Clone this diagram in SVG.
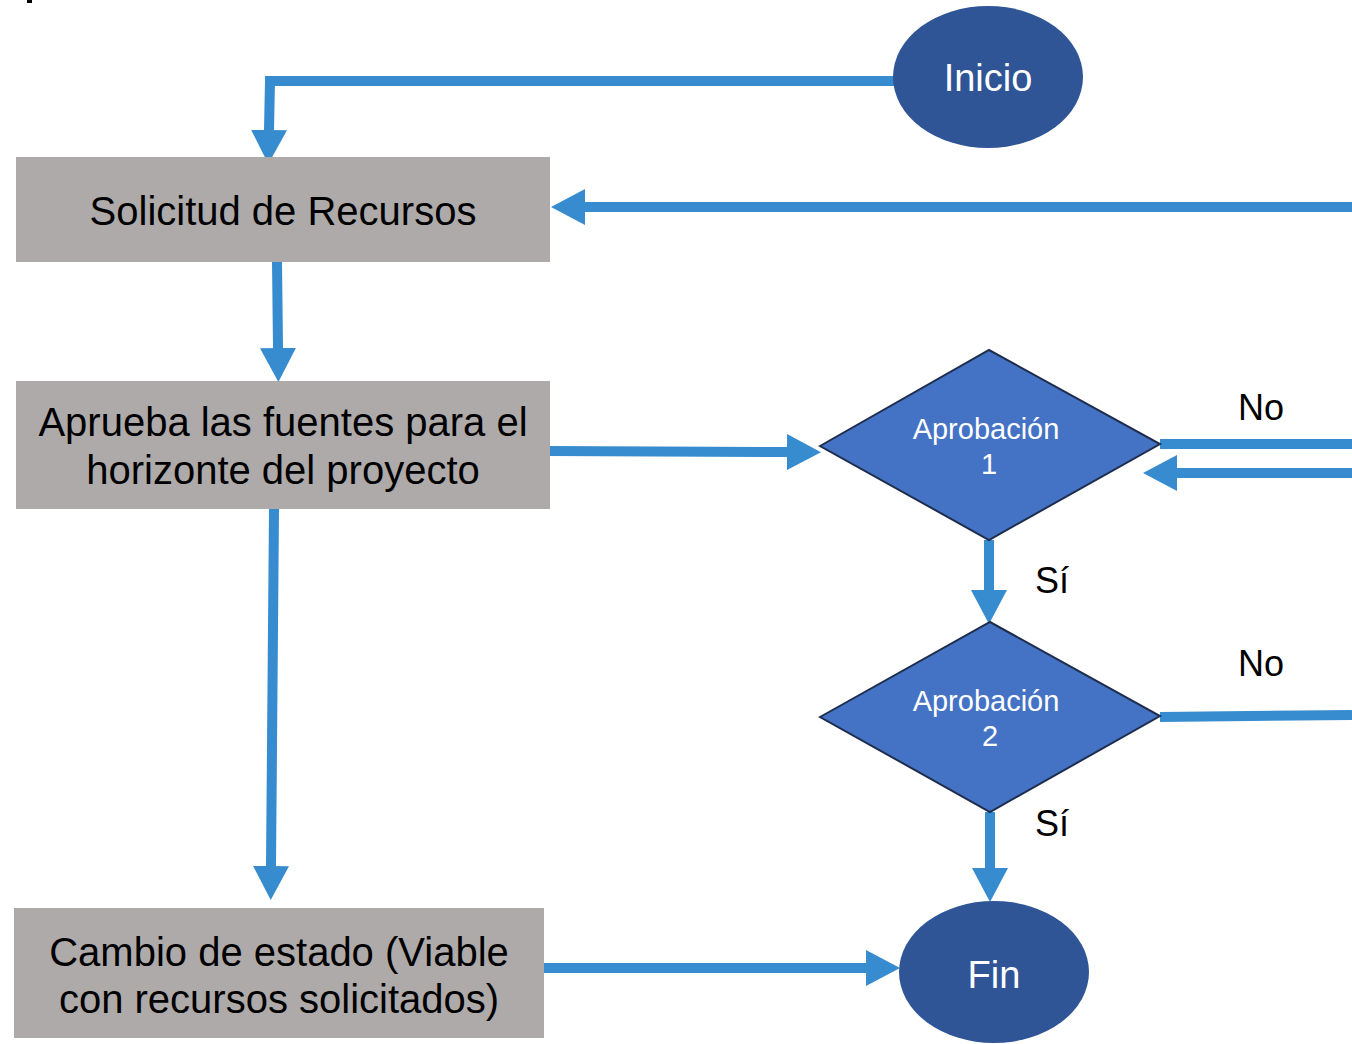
<svg xmlns="http://www.w3.org/2000/svg" width="1352" height="1044" viewBox="0 0 1352 1044">
<style>
  .box { fill: #AEAAAA; }
  .term { fill: #2F5597; }
  .dec { fill: #4472C4; stroke: #1F2D4D; stroke-width: 2; }
  .conn { fill: none; stroke: #368CCE; stroke-width: 10; }
  .t { font-family: "Liberation Sans", Arial, sans-serif; text-anchor: middle; }
  .tb { fill: #000; font-size: 40px; }
  .tw { fill: #fff; font-size: 38px; }
  .td { fill: #fff; font-size: 29px; }
  .tl { fill: #000; font-size: 36px; }
</style>
<defs>
  <marker id="ah" markerUnits="userSpaceOnUse" viewBox="0 0 34 36" refX="0" refY="18" markerWidth="34" markerHeight="36" orient="auto">
    <path d="M0,0 L34,18 L0,36 Z" fill="#368CCE"/>
  </marker>
</defs>
<rect x="27" y="0" width="5" height="3" fill="#000"/>
<g id="connectors">
  <path class="conn" d="M895,81 L270,81 L269,130" marker-end="url(#ah)"/>
  <path class="conn" d="M1352,207 L585,207" marker-end="url(#ah)"/>
  <path class="conn" d="M277,262 L278,348" marker-end="url(#ah)"/>
  <path class="conn" d="M548,451 L787,452" marker-end="url(#ah)"/>
  <path class="conn" d="M1160,444 L1352,444"/>
  <path class="conn" d="M1352,473 L1177,473" marker-end="url(#ah)"/>
  <path class="conn" d="M989,540 L989,590" marker-end="url(#ah)"/>
  <path class="conn" d="M1160,717 L1352,715"/>
  <path class="conn" d="M990,812 L990,868" marker-end="url(#ah)"/>
  <path class="conn" d="M274,509 L271,866" marker-end="url(#ah)"/>
  <path class="conn" d="M541,968 L866,968" marker-end="url(#ah)"/>
</g>
<g id="inicio">
  <ellipse class="term" cx="988" cy="77" rx="95" ry="71"/>
  <text class="t tw" x="988" y="91">Inicio</text>
</g>
<g id="solicitud">
  <rect class="box" x="16" y="157" width="534" height="105"/>
  <text class="t tb" x="283" y="225">Solicitud de Recursos</text>
</g>
<g id="aprueba">
  <rect class="box" x="16" y="381" width="534" height="128"/>
  <text class="t tb" x="283" y="436">Aprueba las fuentes para el</text>
  <text class="t tb" x="283" y="484">horizonte del proyecto</text>
</g>
<g id="aprobacion1">
  <polygon class="dec" points="820,446 989,350 1160,444 989,540"/>
  <text class="t td" x="986" y="439">Aprobación</text>
  <text class="t td" x="989" y="474">1</text>
</g>
<g id="aprobacion2">
  <polygon class="dec" points="820,717 990,622 1160,716 990,812"/>
  <text class="t td" x="986" y="711">Aprobación</text>
  <text class="t td" x="990" y="746">2</text>
</g>
<g id="cambio">
  <rect class="box" x="14" y="908" width="530" height="130"/>
  <text class="t tb" x="279" y="966">Cambio de estado (Viable</text>
  <text class="t tb" x="279" y="1013">con recursos solicitados)</text>
</g>
<g id="fin">
  <ellipse class="term" cx="994" cy="972" rx="95" ry="71"/>
  <text class="t tw" x="994" y="988">Fin</text>
</g>
<g id="labels">
  <text class="t tl" x="1261" y="420">No</text>
  <text class="t tl" x="1052" y="593">Sí</text>
  <text class="t tl" x="1261" y="676">No</text>
  <text class="t tl" x="1052" y="836">Sí</text>
</g>
</svg>
